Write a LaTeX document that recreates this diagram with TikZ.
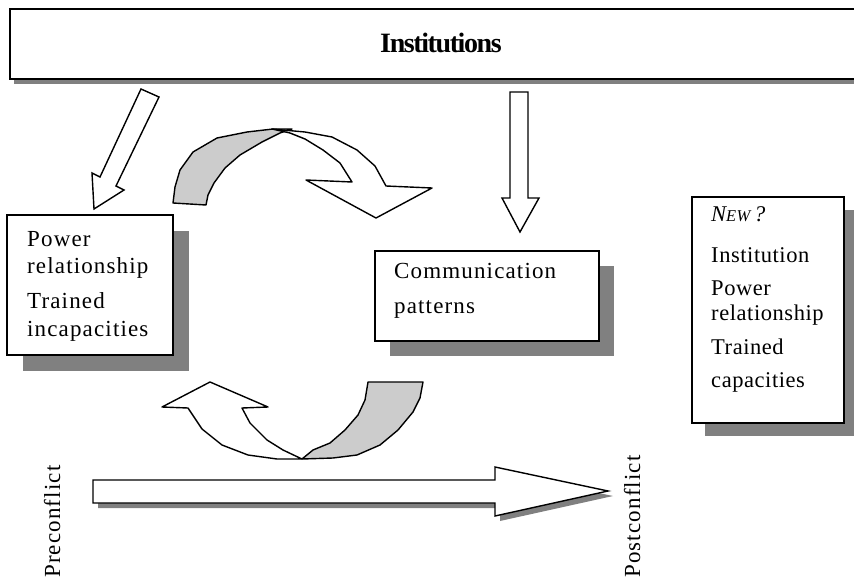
\documentclass[tikz,border=0pt]{standalone}
\usepackage{fontspec}
\setmainfont{Liberation Serif}
\newfontfamily\spaced[LetterSpace=5]{Liberation Serif}
\newfontfamily\spacedtight[LetterSpace=2.5]{Liberation Serif}
\newfontfamily\condensedbold[LetterSpace=-5]{Liberation Serif Bold}
\usetikzlibrary{shadows}
\definecolor{shadowgray}{HTML}{808080}
\definecolor{bandgray}{HTML}{CCCCCC}
\begin{document}
\begin{tikzpicture}[x=1pt,y=-1pt]
\tikzset{
  frame/.style={draw=black, line width=2pt, fill=white, inner sep=0pt, anchor=north west},
  boxshadow/.style={drop shadow={shadow xshift=#1, shadow yshift=-#1, opacity=1, fill=shadowgray}},
  blockarrow/.style={draw=black, line width=1.4pt, fill=white, line join=miter},
  bandarrow/.style={draw=black, line width=1.4pt, fill=bandgray, line join=round},
  arrowshadow/.style={fill=shadowgray, draw=none},
  textline/.style={inner sep=0pt, anchor=base west, font=\spaced\fontsize{23}{27}\selectfont},
  textlinenarrow/.style={inner sep=0pt, anchor=base west, font=\spacedtight\fontsize{22.5}{27}\selectfont},
}
\useasboundingbox (0,0) rectangle (854,583);
\clip (0,0) rectangle (854,583);

% banner across the top
\node[frame, minimum width=864pt, minimum height=70pt,
      drop shadow={shadow xshift=4pt, shadow yshift=-5pt, opacity=1, fill=shadowgray}]
      (inst) at (9,8) {};
\node[font=\condensedbold\fontsize{28}{32}\selectfont] (title) at (441,43) {Institutions};

% left box
\node[frame, boxshadow=16pt, minimum width=166pt, minimum height=140pt] (power) at (6,214) {};
\node[textline] (pw1) at (27,246) {Power};
\node[textline] (pw2) at (27,273) {relationship};
\node[textline] (pw3) at (27,308) {Trained};
\node[textline] (pw4) at (27,336) {incapacities};

% middle box
\node[frame, boxshadow=15pt, minimum width=224pt, minimum height=90pt] (comm) at (374,250) {};
\node[textline] (cm1) at (394,278) {Communication};
\node[textline] (cm2) at (394,313) {patterns};

% right box
\node[frame, boxshadow=13pt, minimum width=152pt, minimum height=226pt] (newbox) at (691,196) {};
\node[textlinenarrow] (nw0) at (711,221) {\itshape N{\fontsize{16.5}{19}\selectfont EW}\,?};
\node[textlinenarrow] (nw1) at (711,262) {Institution};
\node[textlinenarrow] (nw2) at (711,295) {Power};
\node[textlinenarrow] (nw3) at (711,320) {relationship};
\node[textlinenarrow] (nw4) at (711,354) {Trained};
\node[textlinenarrow] (nw5) at (711,387) {capacities};

% straight block arrows from the banner
\draw[blockarrow] (141,89) -- (159,97) -- (116,186) -- (124,190) -- (94,209)
      -- (92,173) -- (100,177) -- cycle;
\draw[blockarrow] (510,92) -- (528,92) -- (528,198) -- (539,198) -- (520,232)
      -- (502,198) -- (510,198) -- cycle;

% upper curved arrow: shaded back band, then the white front with the head
\draw[bandarrow] (173,203) -- (175,187) -- (180,170) -- (193,152) -- (217,138)
      -- (247,132) -- (273,129) -- (292,129) -- (280,133) -- (262,142)
      -- (240,155) -- (225,168) -- (214,183) -- (208,195) -- (206,205) -- cycle;
\draw[blockarrow, line join=round] (272,129) -- (305,132) -- (332,137) -- (357,150)
      -- (375,166) -- (386,186) -- (432,188) -- (376,218) -- (306,180)
      -- (352,182) -- (340,163) -- (323,150) -- (305,139) -- (290,133) -- cycle;

% lower curved arrow
\draw[bandarrow] (368,382) -- (423,382) -- (420,398) -- (413,412) -- (398,430)
      -- (380,445) -- (357,455) -- (333,458) -- (302,459) -- (313,450)
      -- (330,443) -- (345,430) -- (358,415) -- (365,400) -- cycle;
\draw[blockarrow, line join=round] (302,459) -- (277,459) -- (248,455) -- (222,445)
      -- (202,429) -- (188,408) -- (162,407) -- (210,382) -- (268,407)
      -- (242,408) -- (250,423) -- (267,440) -- (283,450) -- cycle;

% time line arrow with its shadow
\fill[arrowshadow, shift={(5,5)}] (93,480) -- (495,480) -- (495,467) -- (608,491)
      -- (495,516) -- (495,503) -- (93,503) -- cycle;
\draw[blockarrow] (93,480) -- (495,480) -- (495,467) -- (608,491)
      -- (495,516) -- (495,503) -- (93,503) -- cycle;

% end labels of the time line
\node[textline, rotate=90] (pre) at (60,578) {Preconflict};
\node[textline, rotate=90] (post) at (640,578) {Postconflict};
\end{tikzpicture}
\end{document}
